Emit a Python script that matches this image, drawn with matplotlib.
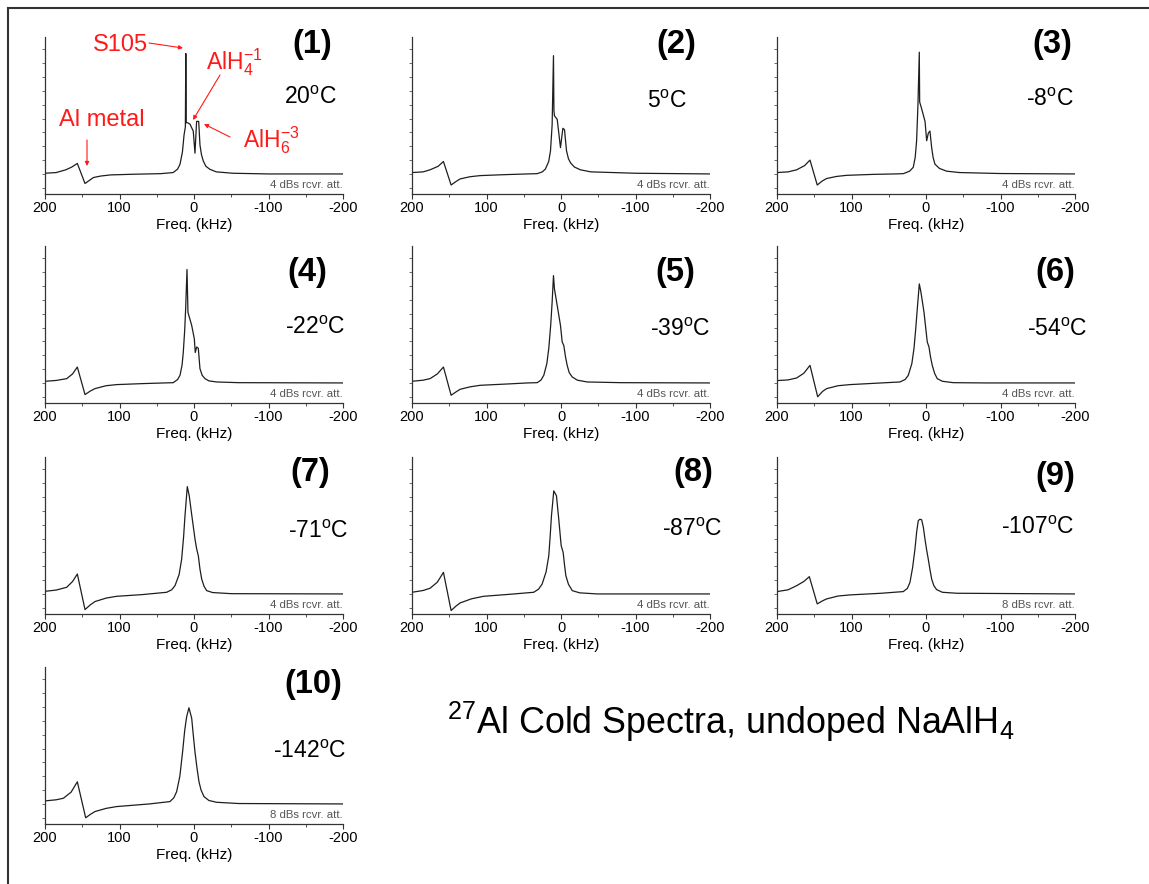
import matplotlib
matplotlib.use("Agg")
import matplotlib.pyplot as plt
from matplotlib.lines import Line2D
from matplotlib.ticker import MultipleLocator

plt.rcParams['font.family'] = ['Liberation Sans', 'DejaVu Sans']
plt.rcParams['mathtext.fontset'] = 'custom'
plt.rcParams['mathtext.rm'] = 'Liberation Sans'
plt.rcParams['mathtext.it'] = 'Liberation Sans:italic'
plt.rcParams['mathtext.bf'] = 'Liberation Sans:bold'
plt.rcParams['axes.unicode_minus'] = False

# spectra: frequency (kHz) and intensity (y-tick units above baseline)
f1 = [200, 185, 172, 164, 156.6, 146.3, 140, 135, 125, 112, 80, 45, 28, 22, 18.8, 15.5, 13.4, 11.6, 11.0, 10.4, 8.5, 5.4, 1, -1.3, -3.5, -6.3, -8, -10, -12.5, -16, -21.5, -30, -52, -100, -200]
a1 = [0.05, 0.1, 0.3, 0.5, 0.76, -0.69, -0.45, -0.26, -0.15, -0.07, -0.02, 0.02, 0.1, 0.35, 0.7, 1.6, 2.8, 3.4, 8.7, 3.7, 3.7, 3.6, 3.1, 1.5, 3.8, 3.8, 2.1, 1.4, 0.93, 0.55, 0.33, 0.15, 0.05, 0.0, 0.0]

f2 = [200, 185, 175.8, 165, 157.8, 147.5, 141, 135.4, 122, 108.4, 75, 45, 32, 25, 20.9, 16.5, 14.1, 11.9, 10.1, 9.5, 8.8, 5.1, 0.7, -2.5, -4.7, -7.4, -10, -12.8, -18, -26, -40, -100, -200]
a2 = [0.1, 0.15, 0.3, 0.55, 0.9, -0.8, -0.55, -0.36, -0.2, -0.12, -0.05, 0.0, 0.02, 0.15, 0.36, 0.9, 1.67, 3.55, 8.55, 4.6, 4.2, 3.95, 1.9, 3.3, 3.2, 1.67, 1.1, 0.8, 0.5, 0.3, 0.15, 0.05, 0.0]

f3 = [200, 185, 173.6, 163, 155.7, 146, 139, 133.4, 120, 106.5, 70, 42, 30.5, 22, 17.1, 14.5, 12.6, 10.8, 9.0, 8.5, 5.8, 1.3, -0.9, -3.1, -5.3, -7.6, -9.5, -12, -18, -27.7, -45, -100, -200]
a3 = [0.1, 0.15, 0.3, 0.6, 1.0, -0.8, -0.5, -0.33, -0.18, -0.1, -0.03, 0.0, 0.02, 0.2, 0.48, 1.2, 2.4, 5.0, 8.8, 5.2, 4.7, 3.8, 2.4, 2.95, 3.1, 1.9, 1.2, 0.71, 0.4, 0.2, 0.1, 0.03, 0.0]

f4 = [200, 185, 170.9, 163, 156.6, 146.3, 139, 132.9, 118, 103.8, 70, 40, 27.8, 22, 18.8, 16, 14.4, 12.5, 11.2, 9.4, 8.1, 3.1, -0.4, -1.7, -3.6, -5.8, -8, -11, -14.8, -20, -30.4, -60, -200]
a4 = [0.12, 0.18, 0.31, 0.65, 1.15, -0.84, -0.58, -0.41, -0.2, -0.12, -0.05, 0.0, 0.02, 0.25, 0.55, 1.3, 2.2, 3.8, 5.36, 8.2, 5.1, 4.16, 3.2, 2.2, 2.6, 2.5, 1.03, 0.55, 0.31, 0.15, 0.07, 0.02, 0.0]

f5 = [200, 185, 175.8, 166, 157.8, 147.5, 141, 135.4, 122, 108.4, 70, 45, 32, 27, 23.1, 19, 16.4, 13.8, 11.9, 10.1, 8.8, 5.1, 0.7, -1.6, -3.8, -6, -8.3, -11, -15.1, -22, -35.2, -80, -200]
a5 = [0.12, 0.2, 0.31, 0.65, 1.15, -0.89, -0.65, -0.46, -0.28, -0.17, -0.07, 0.0, 0.02, 0.2, 0.55, 1.4, 2.5, 4.2, 5.84, 7.76, 6.8, 5.6, 4.16, 2.96, 2.7, 1.9, 1.27, 0.75, 0.43, 0.2, 0.07, 0.02, 0.0]

f6 = [200, 185, 173.6, 164, 155.7, 145.4, 139, 133.4, 118, 102, 60, 35, 28, 23.8, 19, 16.1, 13.8, 11.7, 9.0, 6.8, 2.7, -1.7, -4, -6, -8.4, -11.5, -15.1, -22, -36.6, -80, -200]
a6 = [0.17, 0.22, 0.36, 0.7, 1.27, -1.0, -0.62, -0.41, -0.2, -0.12, 0.0, 0.07, 0.25, 0.55, 1.4, 2.5, 3.9, 5.36, 7.16, 6.56, 5.12, 2.96, 2.6, 1.9, 1.27, 0.7, 0.31, 0.12, 0.02, 0.0, 0.0]

f7 = [200, 185, 170.9, 163, 156.6, 146.3, 139, 132.9, 118, 103.8, 70, 36.7, 30, 25.5, 20, 16.6, 14, 12.1, 9.0, 6.4, 3.5, 1.0, -1.5, -3.6, -5.8, -8, -10.3, -13.5, -17, -25, -50, -200]
a7 = [0.19, 0.28, 0.48, 0.9, 1.44, -1.13, -0.78, -0.55, -0.3, -0.17, -0.05, 0.12, 0.3, 0.6, 1.4, 2.5, 4.1, 5.65, 7.76, 7.1, 5.9, 4.9, 3.9, 3.25, 2.76, 1.8, 1.08, 0.55, 0.24, 0.1, 0.02, 0.0]

f8 = [200, 185, 175.8, 166, 157.8, 147.5, 141, 135.4, 120, 104, 70, 36.6, 30, 25.3, 20, 16.4, 14.5, 12.8, 9.7, 6.1, 3.0, -0.2, -2.9, -4.5, -6.5, -10, -15.1, -25, -48.7, -200]
a8 = [0.12, 0.25, 0.41, 0.85, 1.56, -1.2, -0.88, -0.65, -0.35, -0.17, -0.03, 0.12, 0.35, 0.72, 1.6, 2.76, 4.2, 5.65, 7.45, 7.1, 5.4, 3.5, 3.0, 2.2, 1.32, 0.7, 0.24, 0.08, 0.0, 0.0]

f9 = [200, 185, 173.6, 164, 156.6, 146, 139, 133.4, 118, 102, 60, 30.5, 25, 21.5, 18, 14.8, 12.5, 10.4, 8.2, 5.8, 3.5, 1.4, -0.8, -3.1, -5.5, -7.6, -10.5, -14.3, -22, -41.2, -200]
a9 = [0.17, 0.3, 0.6, 0.9, 1.25, -0.72, -0.5, -0.36, -0.15, -0.07, 0.05, 0.17, 0.4, 0.84, 1.9, 3.25, 4.5, 5.3, 5.4, 5.36, 4.8, 3.97, 3.2, 2.5, 1.7, 1.08, 0.6, 0.31, 0.12, 0.05, 0.0]

f10 = [200, 185, 175.4, 165, 156.6, 145.4, 139, 132.9, 118, 103.8, 60, 32.3, 27, 23.3, 19, 15.3, 12.5, 9.9, 6.8, 3.1, 1.0, -1.3, -4, -6.7, -9.5, -13.4, -20, -30.4, -60, -200]
a10 = [0.22, 0.3, 0.41, 0.85, 1.6, -1.0, -0.75, -0.55, -0.32, -0.19, 0.0, 0.17, 0.45, 0.89, 2.0, 3.77, 5.3, 6.3, 6.95, 6.2, 5.0, 3.77, 2.6, 1.6, 1.0, 0.53, 0.25, 0.12, 0.03, 0.0]

freqs = [f1, f2, f3, f4, f5, f6, f7, f8, f9, f10]
amps = [a1, a2, a3, a4, a5, a6, a7, a8, a9, a10]
panel_labels = ['(1)', '(2)', '(3)', '(4)', '(5)', '(6)', '(7)', '(8)', '(9)', '(10)']
temps = ['20', '5', '-8', '-22', '-39', '-54', '-71', '-87', '-107', '-142']
atten = ['4', '4', '4', '4', '4', '4', '4', '4', '8', '8']

W, H = 1149, 884
col_left = [45, 412, 777]
row_top = [37, 246, 457, 667]
ax_w, ax_h = 298, 157

# where the panel number and temperature sit (figure pixels)
label_xy = [(312, 45), (676, 45), (1052, 45), (307, 273), (675, 273), (1055, 273),
            (310, 473), (693, 473), (1055, 477), (313, 685)]
temp_xy = [(310, 98), (667, 101), (1050, 100), (315, 327), (680, 330), (1057, 330),
           (318, 532), (692, 530), (1038, 528), (310, 752)]


def fp(x, y):
    return (x / W, 1 - y / H)


fig = plt.figure(figsize=(W / 100, H / 100), dpi=100)

for i in range(10):
    r, c = divmod(i, 3)
    left = col_left[c]
    top = row_top[r]
    ax = fig.add_axes([left / W, 1 - (top + ax_h) / H, ax_w / W, ax_h / H])
    ax.plot(freqs[i], amps[i], color='#1e1e1e', lw=0.9)
    ax.set_xlim(200, -200)
    ax.set_ylim(-1.45, 9.9)
    for s in ['top', 'right']:
        ax.spines[s].set_visible(False)
    for s in ['left', 'bottom']:
        ax.spines[s].set_color('#333333')
        ax.spines[s].set_linewidth(0.9)
    ax.set_xticks([200, 100, 0, -100, -200])
    ax.xaxis.set_minor_locator(MultipleLocator(50))
    ax.set_yticks(range(-1, 10))
    ax.set_yticklabels([])
    ax.tick_params(axis='x', direction='out', length=3.5, width=0.8, labelsize=10.5, pad=1.5, color='#333333')
    ax.tick_params(axis='x', which='minor', direction='out', length=2, width=0.6, color='#333333')
    ax.tick_params(axis='y', direction='out', length=2.5, width=0.6, color='#555555')
    ax.set_xlabel('Freq. (kHz)', fontsize=11, labelpad=2.5)
    ax.patch.set_alpha(0)
    ax.text(1.0, 0.06, atten[i] + ' dBs rcvr. att.', transform=ax.transAxes,
            ha='right', va='center', fontsize=8.2, color='#555555')

    fig.text(*fp(*label_xy[i]), panel_labels[i], ha='center', va='center',
             fontsize=23.5, fontweight='bold')
    fig.text(*fp(*temp_xy[i]), temps[i] + r'$^{\rm o}$C', ha='center', va='center',
             fontsize=16.5)

# red peak annotations on panel 1
red = '#ff1a1a'
arrow = dict(arrowstyle='-|>', color=red, lw=0.8, mutation_scale=6, shrinkA=0, shrinkB=0)
fig.text(*fp(120, 45), 'S105', ha='center', va='center', fontsize=17, color=red)
fig.text(*fp(206, 62), r'AlH$_4^{-1}$', ha='left', va='center', fontsize=16.5, color=red)
fig.text(*fp(243, 140), r'AlH$_6^{-3}$', ha='left', va='center', fontsize=16.5, color=red)
fig.text(*fp(102, 120), 'Al metal', ha='center', va='center', fontsize=17, color=red)
for start, end in [((149, 43), (183, 48)), ((220, 75), (193, 120)),
                   ((230, 137), (204, 124)), ((87, 140), (87, 166))]:
    fig.add_artist(plt.Annotation('', xy=fp(*end), xytext=fp(*start),
                                  xycoords='figure fraction', textcoords='figure fraction',
                                  arrowprops=arrow))

fig.text(*fp(447, 734), r'$^{27}$Al Cold Spectra, undoped NaAlH$_4$', ha='left',
         va='baseline', fontsize=25.8)

# slide frame: top and left edges only
fig.add_artist(Line2D([8 / W, 1], [1 - 8 / H, 1 - 8 / H], color='#333333', lw=1.5))
fig.add_artist(Line2D([8 / W, 8 / W], [0, 1 - 8 / H], color='#333333', lw=1.5))

fig.savefig('out.png', dpi=100)
